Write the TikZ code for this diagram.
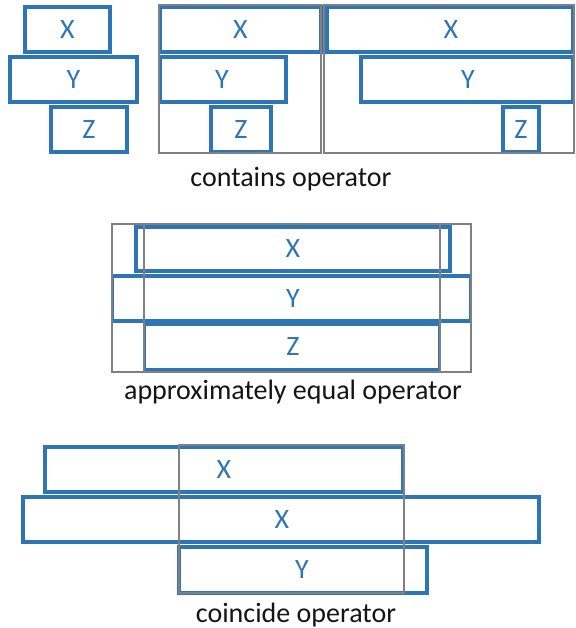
\documentclass[tikz,border=0pt]{standalone}
\usepackage{fontspec}
\setmainfont{Carlito}
\definecolor{boxblue}{RGB}{46,117,182}
\definecolor{framegray}{RGB}{128,128,128}
\definecolor{txt}{RGB}{20,20,20}
\begin{document}
\begin{tikzpicture}[x=1pt,y=-1pt,
  bbox/.style={draw=boxblue,line width=3.2pt},
  gbox/.style={draw=framegray,line width=2.8pt},
  boxlbl/.style={text=boxblue,font=\fontsize{28}{28}\selectfont,inner sep=0pt},
  caplbl/.style={text=txt,font=\fontsize{28}{28}\selectfont,inner sep=0pt,anchor=base}]
\useasboundingbox (0,0) rectangle (575,628);
% --- top-left group
\draw[bbox] (25,7) rectangle (110,52);
\draw[bbox] (10,57) rectangle (137,102);
\draw[bbox] (51,107) rectangle (127,152);
\node[boxlbl] (a1) at (67.5,29.5) {X};
\node[boxlbl] (a2) at (73.5,79.5) {Y};
\node[boxlbl] (a3) at (89,129.5) {Z};
% --- contains, middle
\draw[bbox] (160,7) rectangle (321,52);
\draw[bbox] (160,57) rectangle (286,102);
\draw[bbox] (211,107) rectangle (271,152);
\draw[gbox] (159,5) rectangle (321,153);
\node[boxlbl] (b1) at (240.5,29.5) {X};
\node[boxlbl] (b2) at (222,79.5) {Y};
\node[boxlbl] (b3) at (241,129.5) {Z};
% --- contains, right
\draw[bbox] (327,7) rectangle (573,52);
\draw[bbox] (361,57) rectangle (573,102);
\draw[bbox] (503,107) rectangle (539,152);
\draw[gbox] (324,5) rectangle (574,153);
\node[boxlbl] (c1) at (451,29.5) {X};
\node[boxlbl] (c2) at (468,79.5) {Y};
\node[boxlbl] (c3) at (521,129.5) {Z};
\node[caplbl] (capA) at (291,187) {contains operator};
% --- approximately equal
\draw[bbox] (136,227) rectangle (450,271);
\draw[bbox] (112.3,276) rectangle (470.7,321);
\draw[bbox] (144.3,324) rectangle (439.7,370);
\draw[gbox] (112,224) rectangle (471,372);
\draw[gbox] (144,224) -- (144,372);
\draw[gbox] (440,224) -- (440,372);
\node[boxlbl] (d1) at (293,249) {X};
\node[boxlbl] (d2) at (293,298.5) {Y};
\node[boxlbl] (d3) at (293,347) {Z};
\node[caplbl] (capB) at (293,399) {approximately equal operator};
% --- coincide
\draw[bbox] (45,447) rectangle (403,492);
\draw[bbox] (23,497) rectangle (539,542);
\draw[bbox] (179,547) rectangle (427,593);
\draw[gbox] (179,445) rectangle (404,593);
\node[boxlbl] (e1) at (224,469.5) {X};
\node[boxlbl] (e2) at (282,519.5) {X};
\node[boxlbl] (e3) at (302,570) {Y};
\node[caplbl] (capC) at (296,622) {coincide operator};
\end{tikzpicture}
\end{document}
